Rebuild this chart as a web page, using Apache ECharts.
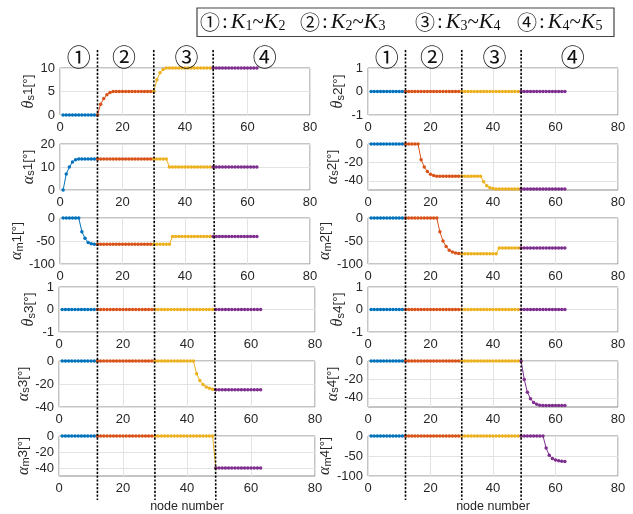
<!DOCTYPE html>
<html>
<head>
<meta charset="utf-8">
<script src="https://cdn.jsdelivr.net/npm/echarts@6/dist/echarts.min.js"></script>
<style>
html, body { margin: 0; padding: 0; background: #fff; }
#main { width: 633px; height: 514px; }
</style>
</head>
<body>
<div id="main"></div>
<script>
// Node numbers along the path
const nodeNumbers = [
  1,2,3,4,5,6,7,8,9,10,11,12,13,14,15,16,17,18,19,20,
  21,22,23,24,25,26,27,28,29,30,31,32,33,34,35,36,37,38,39,40,
  41,42,43,44,45,46,47,48,49,50,51,52,53,54,55,56,57,58,59,60,
  61,62,63
];

// Section boundaries (node numbers) and the marks drawn above each section
const sectionBounds = [1, 12, 30, 49, 63];
const sectionDividers = [12, 30, 49];
const sectionMarks = ['①', '②', '③', '④'];
const sectionMarkAt = [6, 20.5, 40.5, 65.5];
const sectionColors = ['#0072BD', '#D95319', '#EDB120', '#7E2F8E'];

// Legend entries: circled mark, first K index, second K index
const legendMarks = ['①', '②', '③', '④'];
const legendFrom = ['1', '2', '3', '4'];
const legendTo = ['2', '3', '4', '5'];

const xTicks = [0, 20, 40, 60, 80];

// Joint angles per node [deg]
const thetaS1 = [
  0,0,0,0,0,0,0,0,0,0,0,0,2.3,3.5,4.3,4.8,5,5,5,5,
  5,5,5,5,5,5,5,5,5,5,7.5,9,9.7,10,10,10,10,10,10,10,
  10,10,10,10,10,10,10,10,10,10,10,10,10,10,10,10,10,10,10,10,
  10,10,10
];
const alphaS1 = [
  0,7,10,12.2,13.2,13.5,13.5,13.5,13.5,13.5,13.5,13.5,13.5,13.5,13.5,13.5,13.5,13.5,13.5,13.5,
  13.5,13.5,13.5,13.5,13.5,13.5,13.5,13.5,13.5,13.5,13.5,13.5,13.5,13.5,10,10,10,10,10,10,
  10,10,10,10,10,10,10,10,10,10,10,10,10,10,10,10,10,10,10,10,
  10,10,10
];
const alphaM1 = [
  0,0,0,0,0,0,-30,-44,-53,-56,-57,-57,-57,-57,-57,-57,-57,-57,-57,-57,
  -57,-57,-57,-57,-57,-57,-57,-57,-57,-57,-57,-57,-57,-57,-57,-40,-40,-40,-40,-40,
  -40,-40,-40,-40,-40,-40,-40,-40,-40,-40,-40,-40,-40,-40,-40,-40,-40,-40,-40,-40,
  -40,-40,-40
];
const thetaS3 = [
  0,0,0,0,0,0,0,0,0,0,0,0,0,0,0,0,0,0,0,0,
  0,0,0,0,0,0,0,0,0,0,0,0,0,0,0,0,0,0,0,0,
  0,0,0,0,0,0,0,0,0,0,0,0,0,0,0,0,0,0,0,0,
  0,0,0
];
const alphaS3 = [
  0,0,0,0,0,0,0,0,0,0,0,0,0,0,0,0,0,0,0,0,
  0,0,0,0,0,0,0,0,0,0,0,0,0,0,0,0,0,0,0,0,
  0,0,-11,-17,-20.5,-22.5,-23.8,-24.5,-25,-25,-25,-25,-25,-25,-25,-25,-25,-25,-25,-25,
  -25,-25,-25
];
const alphaM3 = [
  0,0,0,0,0,0,0,0,0,0,0,0,0,0,0,0,0,0,0,0,
  0,0,0,0,0,0,0,0,0,0,0,0,0,0,0,0,0,0,0,0,
  0,0,0,0,0,0,0,0,-40,-40,-40,-40,-40,-40,-40,-40,-40,-40,-40,-40,
  -40,-40,-40
];
const thetaS2 = [
  0,0,0,0,0,0,0,0,0,0,0,0,0,0,0,0,0,0,0,0,
  0,0,0,0,0,0,0,0,0,0,0,0,0,0,0,0,0,0,0,0,
  0,0,0,0,0,0,0,0,0,0,0,0,0,0,0,0,0,0,0,0,
  0,0,0
];
const alphaS2 = [
  0,0,0,0,0,0,0,0,0,0,0,0,0,0,0,0,-17,-25,-30,-33,
  -34.3,-35,-35,-35,-35,-35,-35,-35,-35,-35,-35,-35,-35,-35,-35,-35,-41,-45.5,-47.5,-48.5,
  -49,-49,-49,-49,-49,-49,-49,-49,-49,-49,-49,-49,-49,-49,-49,-49,-49,-49,-49,-49,
  -49,-49,-49
];
const alphaM2 = [
  0,0,0,0,0,0,0,0,0,0,0,0,0,0,0,0,0,0,0,0,
  0,0,-30,-50,-62,-70,-74,-76,-77,-77.5,-77.5,-77.5,-77.5,-77.5,-77.5,-77.5,-77.5,-77.5,-77.5,-77.5,
  -77.5,-65,-65,-65,-65,-65,-65,-65,-65,-65,-65,-65,-65,-65,-65,-65,-65,-65,-65,-65,
  -65,-65,-65
];
const thetaS4 = [
  0,0,0,0,0,0,0,0,0,0,0,0,0,0,0,0,0,0,0,0,
  0,0,0,0,0,0,0,0,0,0,0,0,0,0,0,0,0,0,0,0,
  0,0,0,0,0,0,0,0,0,0,0,0,0,0,0,0,0,0,0,0,
  0,0,0
];
const alphaS4 = [
  0,0,0,0,0,0,0,0,0,0,0,0,0,0,0,0,0,0,0,0,
  0,0,0,0,0,0,0,0,0,0,0,0,0,0,0,0,0,0,0,0,
  0,0,0,0,0,0,0,0,0,-20,-34,-41,-45,-47,-48,-48.5,-48.5,-48.5,-48.5,-48.5,
  -48.5,-48.5,-48.5
];
const alphaM4 = [
  0,0,0,0,0,0,0,0,0,0,0,0,0,0,0,0,0,0,0,0,
  0,0,0,0,0,0,0,0,0,0,0,0,0,0,0,0,0,0,0,0,
  0,0,0,0,0,0,0,0,0,0,0,0,0,0,0,0,-30,-48,-56,-60,
  -62,-63,-64
];

// Y-axis ranges and tick labels
const range10 = [0, 10],    ticks10 = [0, 5, 10];
const range20 = [0, 20],    ticks20 = [0, 10, 20];
const range100 = [-100, 0], ticks100 = [-100, -50, 0];
const range1 = [-1, 1],     ticks1 = [-1, 0, 1];
const range40 = [-40, 0],   ticks40 = [-40, -20, 0];
const range50 = [-50, 0],   ticks50 = [-40, -20, 0];

// Panel list: left column top-to-bottom, then right column
const panels = [
  { values: thetaS1, sym: 'θ', sub: 's', idx: '1', range: range10,  ticks: ticks10 },
  { values: alphaS1, sym: 'α', sub: 's', idx: '1', range: range20,  ticks: ticks20 },
  { values: alphaM1, sym: 'α', sub: 'm', idx: '1', range: range100, ticks: ticks100 },
  { values: thetaS3, sym: 'θ', sub: 's', idx: '3', range: range1,   ticks: ticks1 },
  { values: alphaS3, sym: 'α', sub: 's', idx: '3', range: range40,  ticks: ticks40 },
  { values: alphaM3, sym: 'α', sub: 'm', idx: '3', range: range50,  ticks: ticks50 },
  { values: thetaS2, sym: 'θ', sub: 's', idx: '2', range: range1,   ticks: ticks1 },
  { values: alphaS2, sym: 'α', sub: 's', idx: '2', range: range50,  ticks: ticks50 },
  { values: alphaM2, sym: 'α', sub: 'm', idx: '2', range: range100, ticks: ticks100 },
  { values: thetaS4, sym: 'θ', sub: 's', idx: '4', range: range1,   ticks: ticks1 },
  { values: alphaS4, sym: 'α', sub: 's', idx: '4', range: range50,  ticks: ticks50 },
  { values: alphaM4, sym: 'α', sub: 'm', idx: '4', range: range100, ticks: ticks100 }
];

// Layout of the 6x2 panel grid (pixels)
const rowTop =    [68, 144, 218, 287, 361, 436];
const rowBottom = [115, 190, 264, 332, 407, 482];
const colLayout = [
  [{ left: 60, width: 250 }, { left: 60, width: 250 }, { left: 60, width: 250 },
   { left: 59, width: 256 }, { left: 59, width: 256 }, { left: 59, width: 256 }],
  [{ left: 368, width: 250 }, { left: 368, width: 250 }, { left: 368, width: 250 },
   { left: 368, width: 250 }, { left: 368, width: 250 }, { left: 368, width: 250 }]
];

const SANS = 'Liberation Sans, Arial, sans-serif';
const SERIF = 'Liberation Serif, Times New Roman, serif';
const CJK = 'Noto Sans CJK JP';
const TEXT = '#262626';
const FRAME = '#8a8a8a';
const GRIDLINE = '#e3e3e3';

const grids = [], xAxes = [], yAxes = [], series = [];

panels.forEach((p, i) => {
  const col = i < 6 ? 0 : 1;
  const row = i % 6;
  const lay = colLayout[col][row];
  grids.push({
    left: lay.left, width: lay.width,
    top: rowTop[row], height: rowBottom[row] - rowTop[row],
    show: true, borderColor: FRAME, borderWidth: 1, backgroundColor: '#fff'
  });
  const isBottom = row === 5;
  xAxes.push({
    type: 'value', gridIndex: i, min: 0, max: 80,
    axisLine: { show: false },
    axisTick: { show: false, customValues: xTicks },
    axisLabel: { customValues: xTicks, color: TEXT, fontFamily: SANS, fontSize: 13, margin: 6 },
    splitLine: { show: true, lineStyle: { color: GRIDLINE, width: 1 } },
    name: isBottom ? 'node number' : '',
    nameLocation: 'middle', nameGap: 24,
    nameTextStyle: { color: TEXT, fontFamily: SANS, fontSize: 12.5 }
  });
  yAxes.push({
    type: 'value', gridIndex: i, min: p.range[0], max: p.range[1],
    axisLine: { show: false },
    axisTick: { show: false, customValues: p.ticks },
    axisLabel: { customValues: p.ticks, color: TEXT, fontFamily: SANS, fontSize: 13, margin: 5 },
    splitLine: { show: true, lineStyle: { color: GRIDLINE, width: 1 } },
    name: '{g|' + p.sym + '}{s|' + p.sub + '}{n|' + p.idx + '[°]}',
    nameLocation: 'middle', nameGap: 22, nameRotate: 90,
    nameTextStyle: {
      color: TEXT,
      rich: {
        g: { fontFamily: SERIF, fontStyle: 'italic', fontSize: 16, lineHeight: 16, color: TEXT },
        s: { fontFamily: SANS, fontSize: 11, lineHeight: 6, verticalAlign: 'bottom', color: TEXT },
        n: { fontFamily: SANS, fontSize: 13.5, lineHeight: 16, color: TEXT }
      }
    }
  });
  for (let s = 0; s < 4; s++) {
    const from = sectionBounds[s], to = sectionBounds[s + 1];
    const pts = [];
    nodeNumbers.forEach((n, k) => {
      if (n >= from && n <= to) pts.push([n, p.values[k]]);
    });
    series.push({
      type: 'line', xAxisIndex: i, yAxisIndex: i,
      data: pts,
      symbol: 'circle', symbolSize: 3.5, showSymbol: true,
      lineStyle: { color: sectionColors[s], width: 1 },
      itemStyle: { color: sectionColors[s] },
      z: 3 + s, silent: true, animation: false
    });
  }
});

const chart = echarts.init(document.getElementById('main'), null, { renderer: 'canvas' });
chart.setOption({
  backgroundColor: '#fff',
  animation: false,
  grid: grids, xAxis: xAxes, yAxis: yAxes, series: series
});

// Section dividers, section marks and legend
const graphics = [];
const lineTop = 50, lineBottom = 500;
[[0, 5], [6, 11]].forEach(([topPanel, bottomPanel]) => {
  sectionDividers.forEach(v => {
    const x1 = chart.convertToPixel({ xAxisIndex: topPanel }, v);
    const x2 = chart.convertToPixel({ xAxisIndex: bottomPanel }, v);
    graphics.push({
      type: 'line', silent: true, z: 50,
      shape: { x1: x1, y1: lineTop, x2: x2, y2: lineBottom },
      style: { stroke: '#000', lineWidth: 1.6, lineDash: [2.2, 1.6] }
    });
  });
  sectionMarks.forEach((m, k) => {
    const x = chart.convertToPixel({ xAxisIndex: topPanel }, sectionMarkAt[k]);
    graphics.push({
      type: 'text', silent: true, z: 50, x: x, y: 57,
      style: { text: m, font: '24px ' + CJK, fill: '#111', align: 'center', verticalAlign: 'middle' }
    });
  });
});

graphics.push({
  type: 'rect', silent: true, z: 40,
  shape: { x: 197, y: 8, width: 417, height: 28.5 },
  style: { fill: '#fff', stroke: '#444', lineWidth: 1.2 }
});
const legendX = [200, 300, 415, 517];
legendMarks.forEach((m, k) => {
  graphics.push({
    type: 'text', silent: true, z: 50, x: legendX[k], y: 22.5,
    style: {
      text: '{c|' + m + '}{t|:}{k|K}{d|' + legendFrom[k] + '}{w|~}{k|K}{d|' + legendTo[k] + '}',
      align: 'left', verticalAlign: 'middle',
      rich: {
        c: { fontFamily: CJK, fontSize: 20, lineHeight: 22, fill: '#111' },
        t: { fontFamily: SERIF, fontSize: 21, lineHeight: 22, fill: '#111', padding: [0, 3, 0, 2] },
        w: { fontFamily: SERIF, fontSize: 21, lineHeight: 22, fill: '#111' },
        k: { fontFamily: SERIF, fontStyle: 'italic', fontSize: 22, lineHeight: 22, fill: '#111' },
        d: { fontFamily: SERIF, fontSize: 14, lineHeight: 9, verticalAlign: 'bottom', fill: '#111' }
      }
    }
  });
});

chart.setOption({ graphic: graphics });
</script>
</body>
</html>
